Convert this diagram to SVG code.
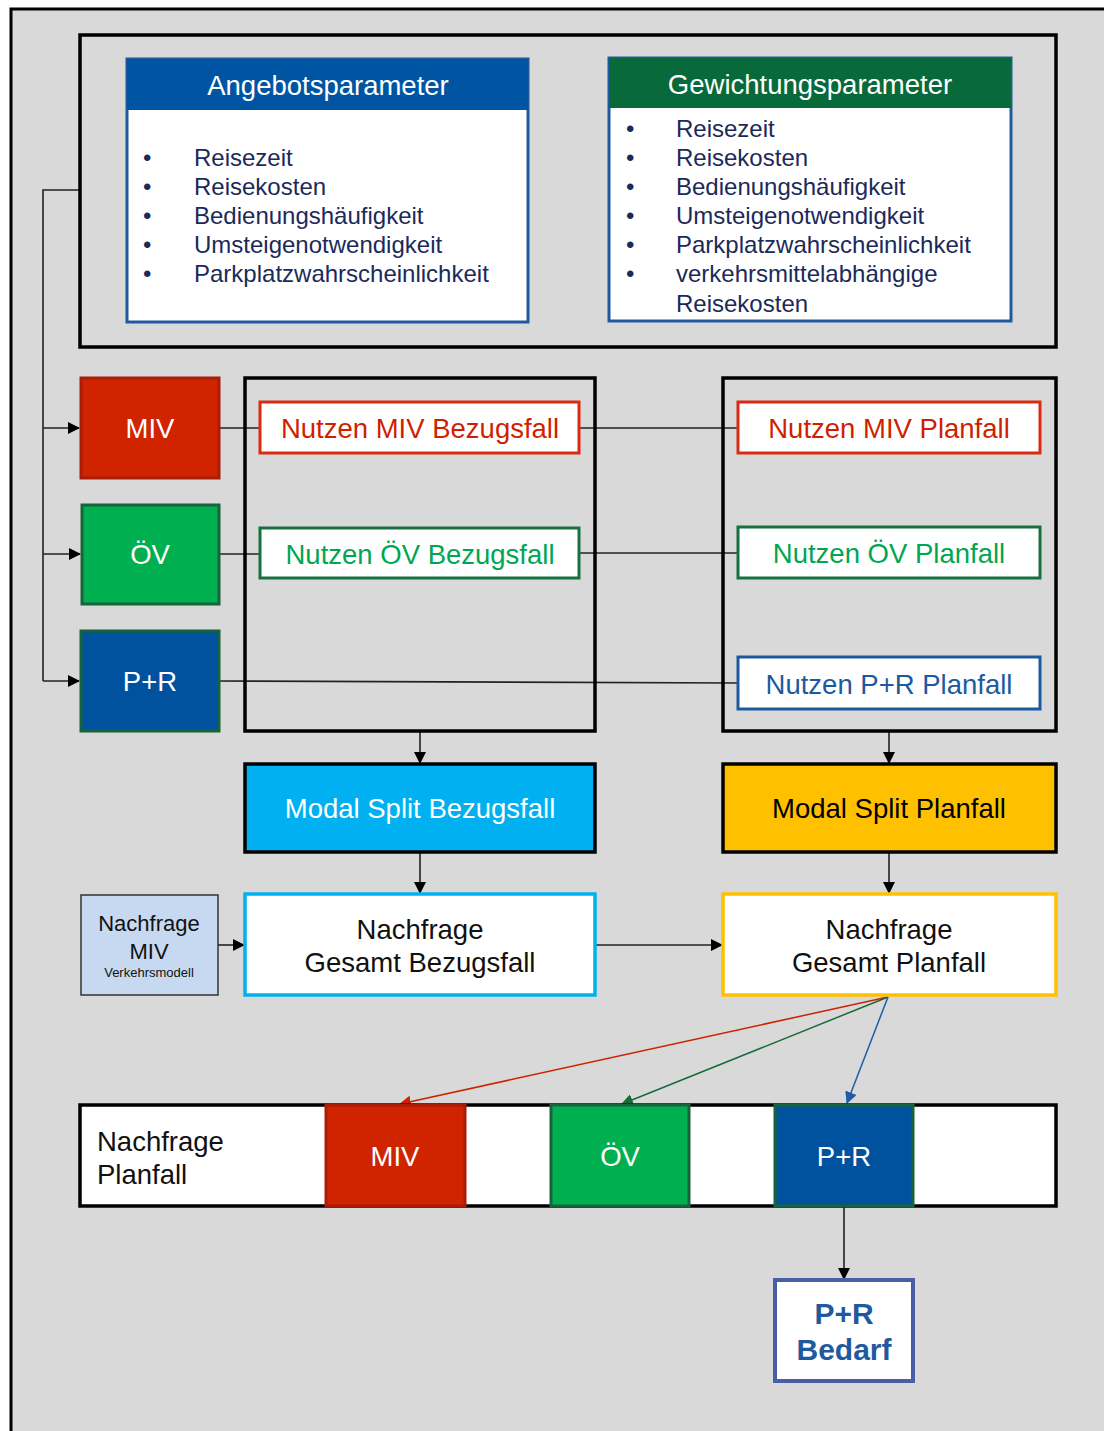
<svg xmlns="http://www.w3.org/2000/svg" width="1104" height="1431" viewBox="0 0 1104 1431">
<defs>
<marker id="ab" markerWidth="12" markerHeight="12" refX="11" refY="6" orient="auto" markerUnits="userSpaceOnUse"><path d="M0,0 L12,6 L0,12 Z" fill="#000"/></marker>
<marker id="ar" markerWidth="12" markerHeight="12" refX="11" refY="6" orient="auto" markerUnits="userSpaceOnUse"><path d="M0,0 L12,6 L0,12 Z" fill="#cc2200"/></marker>
<marker id="ag" markerWidth="12" markerHeight="12" refX="11" refY="6" orient="auto" markerUnits="userSpaceOnUse"><path d="M0,0 L12,6 L0,12 Z" fill="#156b3a"/></marker>
<marker id="abl" markerWidth="12" markerHeight="12" refX="11" refY="6" orient="auto" markerUnits="userSpaceOnUse"><path d="M0,0 L12,6 L0,12 Z" fill="#1f5ba8"/></marker>
</defs>
<style>
text{font-family:"Liberation Sans",Arial,sans-serif}
.frame{fill:none;stroke:#000;stroke-width:3.5}
.lst{font-size:24px;fill:#1b2a59}
.hd{font-size:27.5px;fill:#fff;text-anchor:middle}
.t27{font-size:27.5px;text-anchor:middle}
.w{fill:#fff}
.con{stroke:#222;stroke-width:1.6;fill:none}
</style>
<rect x="0" y="0" width="1104" height="1431" fill="#fff"/>
<rect x="11" y="9" width="1110" height="1440" fill="#d9d9d9" stroke="#000" stroke-width="3"/>

<g id="connectors">
<path class="con" d="M80,190 H43 V681"/>
<line class="con" x1="43" y1="428" x2="79" y2="428" marker-end="url(#ab)"/>
<line class="con" x1="43" y1="554" x2="80" y2="554" marker-end="url(#ab)"/>
<line class="con" x1="43" y1="681" x2="79" y2="681" marker-end="url(#ab)"/>
<line class="con" x1="219" y1="428" x2="260" y2="428"/>
<line class="con" x1="579" y1="428" x2="738" y2="428"/>
<line class="con" x1="219" y1="554" x2="260" y2="554"/>
<line class="con" x1="579" y1="553" x2="738" y2="553"/>
<line class="con" x1="219" y1="681" x2="738" y2="683"/>
<line class="con" x1="420" y1="731" x2="420" y2="763" marker-end="url(#ab)"/>
<line class="con" x1="889" y1="731" x2="889" y2="763" marker-end="url(#ab)"/>
<line class="con" x1="420" y1="852" x2="420" y2="893" marker-end="url(#ab)"/>
<line class="con" x1="889" y1="852" x2="889" y2="893" marker-end="url(#ab)"/>
<line class="con" x1="218" y1="945" x2="244" y2="945" marker-end="url(#ab)"/>
<line class="con" x1="595" y1="945" x2="722" y2="945" marker-end="url(#ab)"/>
<line x1="888" y1="997" x2="400" y2="1104" stroke="#cc2200" stroke-width="1.5" marker-end="url(#ar)"/>
<line x1="888" y1="997" x2="622" y2="1104" stroke="#156b3a" stroke-width="1.5" marker-end="url(#ag)"/>
<line x1="888" y1="997" x2="847" y2="1103" stroke="#1f5ba8" stroke-width="1.5" marker-end="url(#abl)"/>
<line class="con" x1="844" y1="1206" x2="844" y2="1279" marker-end="url(#ab)"/>
</g>

<g id="params-frame"><rect class="frame" x="80" y="35" width="976" height="312"/></g>

<g id="angebotsparameter">
<rect x="127" y="59" width="401" height="263" fill="#fff" stroke="#1f5aa0" stroke-width="3"/>
<rect x="127" y="59" width="401" height="51" fill="#0055a2"/>
<text class="hd" x="328" y="95">Angebotsparameter</text>
<g class="lst">
<text x="143" y="166">•</text><text x="194" y="166">Reisezeit</text>
<text x="143" y="195">•</text><text x="194" y="195">Reisekosten</text>
<text x="143" y="224">•</text><text x="194" y="224">Bedienungshäufigkeit</text>
<text x="143" y="253">•</text><text x="194" y="253">Umsteigenotwendigkeit</text>
<text x="143" y="282">•</text><text x="194" y="282">Parkplatzwahrscheinlichkeit</text>
</g>
</g>

<g id="gewichtungsparameter">
<rect x="609" y="58" width="402" height="263" fill="#fff" stroke="#1f5aa0" stroke-width="3"/>
<rect x="609" y="58" width="402" height="50" fill="#08693a"/>
<text class="hd" x="810" y="94">Gewichtungsparameter</text>
<g class="lst">
<text x="626" y="137">•</text><text x="676" y="137">Reisezeit</text>
<text x="626" y="166">•</text><text x="676" y="166">Reisekosten</text>
<text x="626" y="195">•</text><text x="676" y="195">Bedienungshäufigkeit</text>
<text x="626" y="224">•</text><text x="676" y="224">Umsteigenotwendigkeit</text>
<text x="626" y="253">•</text><text x="676" y="253">Parkplatzwahrscheinlichkeit</text>
<text x="626" y="282">•</text><text x="676" y="282">verkehrsmittelabhängige</text>
<text x="676" y="312">Reisekosten</text>
</g>
</g>

<g id="miv"><rect x="81" y="378" width="138" height="100" fill="#d02300" stroke="#a81c08" stroke-width="3"/><text class="t27" x="150" y="438" fill="#fff">MIV</text></g>
<g id="oev"><rect x="82" y="505" width="137" height="99" fill="#00b050" stroke="#18643a" stroke-width="3"/><text class="t27" x="150" y="564" fill="#fff">ÖV</text></g>
<g id="pr"><rect x="81" y="631" width="138" height="100" fill="#00529e" stroke="#18643a" stroke-width="3"/><text class="t27" x="150" y="691" fill="#fff">P+R</text></g>

<g id="bezugsfall-frame"><rect class="frame" x="245" y="378" width="350" height="353"/></g>
<g id="planfall-frame"><rect class="frame" x="723" y="378" width="333" height="353"/></g>

<g id="nutzen-miv-bezugsfall"><rect class="w" x="260" y="402" width="319" height="51" stroke="#dc2a12" stroke-width="3"/><text class="t27" x="420" y="438" fill="#d01f00">Nutzen MIV Bezugsfall</text></g>
<g id="nutzen-oev-bezugsfall"><rect class="w" x="260" y="528" width="319" height="50" stroke="#18703f" stroke-width="3"/><text class="t27" x="420" y="564" fill="#00a651">Nutzen ÖV Bezugsfall</text></g>
<g id="nutzen-miv-planfall"><rect class="w" x="738" y="402" width="302" height="51" stroke="#dc2a12" stroke-width="3"/><text class="t27" x="889" y="438" fill="#d01f00">Nutzen MIV Planfall</text></g>
<g id="nutzen-oev-planfall"><rect class="w" x="738" y="527" width="302" height="51" stroke="#18703f" stroke-width="3"/><text class="t27" x="889" y="563" fill="#00a651">Nutzen ÖV Planfall</text></g>
<g id="nutzen-pr-planfall"><rect class="w" x="738" y="657" width="302" height="52" stroke="#1c5aa0" stroke-width="3"/><text class="t27" x="889" y="694" fill="#1c5aa0">Nutzen P+R Planfall</text></g>

<g id="modal-split-bezugsfall"><rect x="245" y="764" width="350" height="88" fill="#00b0f0" stroke="#000" stroke-width="3.5"/><text class="t27" x="420" y="818" fill="#fff">Modal Split Bezugsfall</text></g>
<g id="modal-split-planfall"><rect x="723" y="764" width="333" height="88" fill="#ffc000" stroke="#000" stroke-width="3.5"/><text class="t27" x="889" y="818" fill="#000">Modal Split Planfall</text></g>

<g id="nachfrage-miv"><rect x="81" y="895" width="137" height="100" fill="#c6d9f1" stroke="#333" stroke-width="1.5"/>
<text x="149" y="931" font-size="22" text-anchor="middle" fill="#111">Nachfrage</text>
<text x="149" y="959" font-size="22" text-anchor="middle" fill="#111">MIV</text>
<text x="149" y="977" font-size="13" text-anchor="middle" fill="#111">Verkehrsmodell</text></g>

<g id="nachfrage-gesamt-bezugsfall"><rect class="w" x="245" y="894" width="350" height="101" stroke="#00b0f0" stroke-width="3.5"/>
<text class="t27" x="420" y="939" fill="#111">Nachfrage</text><text class="t27" x="420" y="972" fill="#111">Gesamt Bezugsfall</text></g>
<g id="nachfrage-gesamt-planfall"><rect class="w" x="723" y="894" width="333" height="101" stroke="#ffc000" stroke-width="3.5"/>
<text class="t27" x="889" y="939" fill="#111">Nachfrage</text><text class="t27" x="889" y="972" fill="#111">Gesamt Planfall</text></g>

<g id="nachfrage-planfall"><rect class="w" x="80" y="1105" width="976" height="101" stroke="#000" stroke-width="3.5"/>
<text x="97" y="1151" font-size="27.5" fill="#111">Nachfrage</text><text x="97" y="1184" font-size="27.5" fill="#111">Planfall</text></g>
<g id="miv-planfall"><rect x="326" y="1105" width="139" height="101" fill="#d02300" stroke="#a81c08" stroke-width="3"/><text class="t27" x="395" y="1166" fill="#fff">MIV</text></g>
<g id="oev-planfall"><rect x="551" y="1105" width="138" height="101" fill="#00b050" stroke="#18643a" stroke-width="3"/><text class="t27" x="620" y="1166" fill="#fff">ÖV</text></g>
<g id="pr-planfall"><rect x="775" y="1105" width="138" height="101" fill="#00529e" stroke="#18643a" stroke-width="3"/><text class="t27" x="844" y="1166" fill="#fff">P+R</text></g>

<g id="pr-bedarf"><rect class="w" x="775" y="1280" width="138" height="101" stroke="#4a5ea8" stroke-width="4"/>
<text x="844" y="1324" font-size="30" font-weight="bold" text-anchor="middle" fill="#1f5aa0">P+R</text>
<text x="844" y="1360" font-size="30" font-weight="bold" text-anchor="middle" fill="#1f5aa0">Bedarf</text></g>
</svg>
